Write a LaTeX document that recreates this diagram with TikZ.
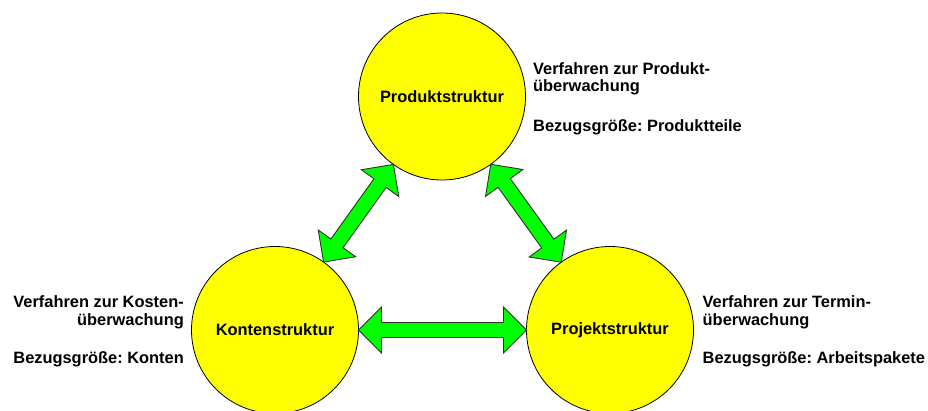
\documentclass[tikz,border=0pt]{standalone}
\usepackage{fontspec}
\setmainfont{Liberation Sans}
\usetikzlibrary{calc}
\frenchspacing

\definecolor{circlefill}{HTML}{FFFF00}
\definecolor{arrowfill}{HTML}{00FF00}
\definecolor{arrowline}{HTML}{303030}

% double-headed block arrow between the borders of two circle nodes
% #1, #2: node names; radius 83.5pt, shaft 15pt, heads 46pt wide and 23pt long
\newcommand\bothways[2]{%
  \coordinate (#1#2A) at ($(#1)!83.5pt!(#2)$);
  \coordinate (#1#2B) at ($(#2)!83.5pt!(#1)$);
  \coordinate (#1#2HA) at ($(#1#2A)!23pt!(#1#2B)$);
  \coordinate (#1#2HB) at ($(#1#2B)!23pt!(#1#2A)$);
  \draw[linkarrow]
    (#1#2A)
    -- ($(#1#2HA)!23pt!90:(#1#2B)$)
    -- ($(#1#2HA)!7.5pt!90:(#1#2B)$)
    -- ($(#1#2HB)!7.5pt!-90:(#1#2A)$)
    -- ($(#1#2HB)!23pt!-90:(#1#2A)$)
    -- (#1#2B)
    -- ($(#1#2HB)!23pt!90:(#1#2A)$)
    -- ($(#1#2HB)!7.5pt!90:(#1#2A)$)
    -- ($(#1#2HA)!7.5pt!-90:(#1#2B)$)
    -- ($(#1#2HA)!23pt!-90:(#1#2B)$)
    -- cycle;
}

\begin{document}
\begin{tikzpicture}[x=1pt,y=-1pt,
  structure/.style={circle, draw=black, line width=0.8pt, fill=circlefill,
    minimum size=167pt, inner sep=0pt, font=\bfseries\fontsize{16.4}{17.7}\selectfont},
  linkarrow/.style={draw=arrowline, line width=0.9pt, fill=arrowfill, line join=miter},
  note/.style={inner sep=0pt, font=\bfseries\fontsize{16.4}{17.7}\selectfont}]
\useasboundingbox (0,0) rectangle (928,410);

% the three structures
\node[structure] (prod) at (442,96.5) {Produktstruktur};
\node[structure] (konto) at (275,330) {Kontenstruktur};
\node[structure] (proj) at (610,330) {Projektstruktur};

% links between them
\bothways{konto}{prod}
\bothways{prod}{proj}
\bothways{konto}{proj}

% product structure notes
\node[note, anchor=base west] (p1) at (533,74) {Verfahren zur Produkt-};
\node[note, anchor=base west] (p2) at (533,91.7) {überwachung};
\node[note, anchor=base west] (p3) at (533,131) {Bezugsgröße: Produktteile};

% account structure notes
\node[note, anchor=base east] (k1) at (184,307) {Verfahren zur Kosten-};
\node[note, anchor=base east] (k2) at (184,325) {überwachung};
\node[note, anchor=base east] (k3) at (184,363.3) {Bezugsgröße: Konten};

% project structure notes
\node[note, anchor=base west] (j1) at (702.5,307) {Verfahren zur Termin-};
\node[note, anchor=base west] (j2) at (702.5,325) {überwachung};
\node[note, anchor=base west] (j3) at (702.5,363.3) {Bezugsgröße: Arbeitspakete};
\end{tikzpicture}
\end{document}
